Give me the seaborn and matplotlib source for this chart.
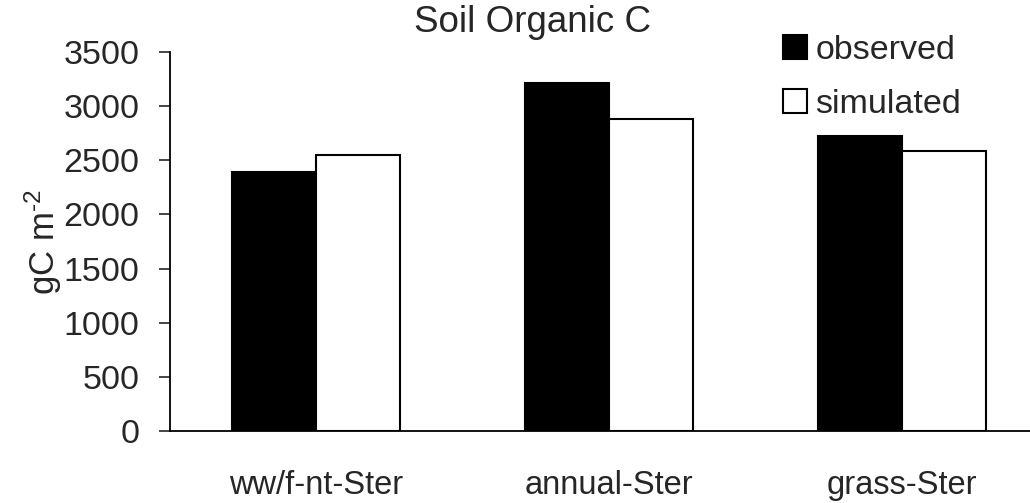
import matplotlib
matplotlib.use("Agg")
import matplotlib.pyplot as plt
import seaborn as sns
import pandas as pd

categories = ["ww/f-nt-Ster", "annual-Ster", "grass-Ster"]
observed = [2395, 3210, 2720]
simulated = [2545, 2880, 2590]
series_names = ["observed", "simulated"]
yticks = [0, 500, 1000, 1500, 2000, 2500, 3000, 3500]

df = pd.DataFrame({
    "category": categories * 2,
    "series": [series_names[0]] * 3 + [series_names[1]] * 3,
    "value": observed + simulated,
})

sns.set_style("white")
plt.rcParams["font.family"] = ["Liberation Sans", "DejaVu Sans"]
plt.rcParams["mathtext.fontset"] = "custom"
plt.rcParams["mathtext.rm"] = "Liberation Sans"
plt.rcParams["mathtext.it"] = "Liberation Sans:italic"
plt.rcParams["mathtext.bf"] = "Liberation Sans:bold"

W, H = 1030, 503
fig = plt.figure(figsize=(W / 100, H / 100), dpi=100)
left, right, bottom, top = 170, 1048, 431, 52
ax = fig.add_axes([left / W, (H - bottom) / H, (right - left) / W, (bottom - top) / H])

sns.barplot(data=df, x="category", y="value", hue="series",
            palette={"observed": "black", "simulated": "white"},
            edgecolor="black", linewidth=1.5, width=0.575, gap=0,
            ax=ax, legend=True)

ax.set_ylim(0, 3500)
ax.set_xlim(-0.5, 2.5)
ax.set_yticks(yticks)
ax.set_yticklabels([str(v) for v in yticks])
ax.tick_params(axis="y", length=8, width=1.2, direction="out", pad=14, labelsize=24.5, left=True)
ax.tick_params(axis="x", length=0, pad=28, labelsize=23.5)
for s in ["top", "right"]:
    ax.spines[s].set_visible(False)
for s in ["left", "bottom"]:
    ax.spines[s].set_color("black")
    ax.spines[s].set_linewidth(1.3)
ax.set_xlabel("")
ax.set_ylabel("gC m$^{\\mathrm{\u2010}2}$", fontsize=25)
ax.yaxis.set_label_coords((64 - left) / (right - left), (bottom - 242) / (bottom - top))

handles, labels = ax.get_legend_handles_labels()
ax.legend(handles, labels, loc="upper left", bbox_to_anchor=(783 / W, 1 - 35 / H),
          bbox_transform=fig.transFigure, frameon=False, fontsize=24.5,
          handlelength=0.7, handleheight=0.7, handletextpad=0.25,
          labelspacing=0.68, borderpad=0, borderaxespad=0)

fig.text(533 / W, 1 - 32 / H, "Soil Organic C", ha="center", va="baseline", fontsize=26.5)

fig.savefig("out.png", dpi=100)
